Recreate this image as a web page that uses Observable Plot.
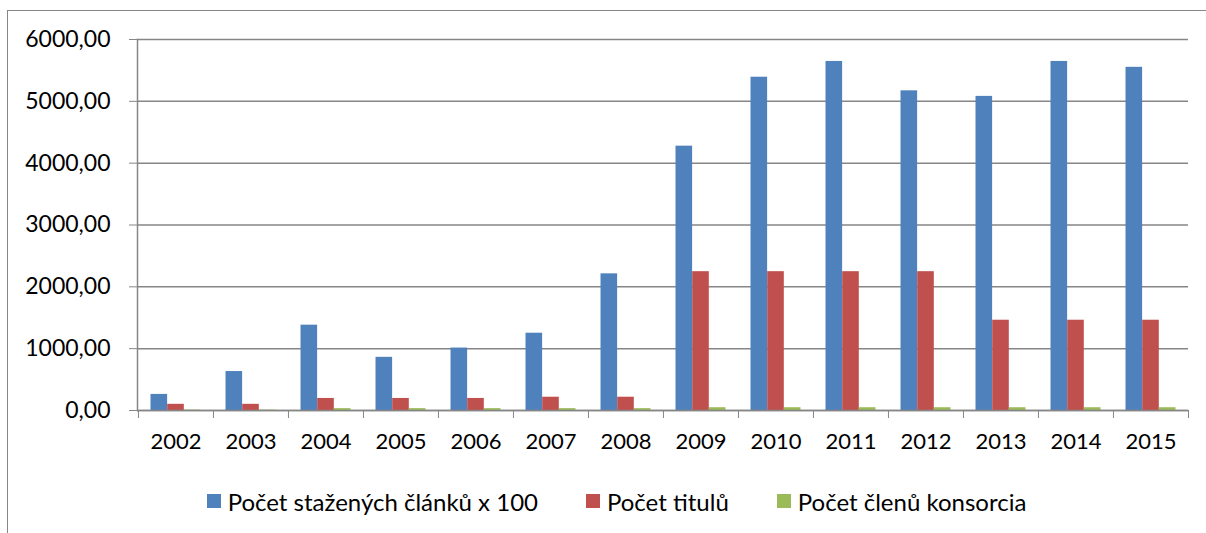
<!DOCTYPE html>
<html>
<head>
<meta charset="utf-8">
<script src="https://cdn.jsdelivr.net/npm/d3@7"></script>
<script src="https://cdn.jsdelivr.net/npm/@observablehq/plot@0.6"></script>
<style>
  body { margin: 0; background: #fff; font-family: Lato, "Open Sans", sans-serif; }
  #wrap { position: relative; width: 1206px; height: 533px; overflow: hidden; background: #fff; }
  #border { position: absolute; left: 7px; top: 10px; width: 1400px; height: 700px;
            border-left: 1.5px solid #868686; border-top: 1.5px solid #868686; box-sizing: border-box; }
  #chart { position: absolute; left: 0; top: 0; }
  #legend { position: absolute; left: 0; top: 471px; width: 1206px; height: 60px;
            display: flex; justify-content: center; align-items: center; gap: 48px;
            font-size: 24px; color: #000; padding-left: 27px; box-sizing: border-box; }
  .item { display: flex; align-items: center; }
  .sw { width: 14px; height: 14px; margin-right: 7px; }
</style>
</head>
<body>
<div id="wrap">
  <div id="border"></div>
  <div id="chart"></div>
  <div id="legend"></div>
</div>
<script>
const years = [2002, 2003, 2004, 2005, 2006, 2007, 2008, 2009, 2010, 2011, 2012, 2013, 2014, 2015];
const downloads = [260, 630, 1380, 860, 1010, 1250, 2210, 4275, 5390, 5645, 5170, 5080, 5645, 5550];
const titles = [100, 100, 195, 195, 195, 215, 215, 2245, 2245, 2245, 2245, 1460, 1460, 1460];
const members = [6, 6, 30, 30, 30, 30, 30, 45, 45, 45, 45, 45, 45, 45];
const seriesNames = ["Počet stažených článků x 100", "Počet titulů", "Počet členů konsorcia"];
const seriesColors = ["#4F81BD", "#C0504D", "#9BBB59"];
const yTicks = [0, 1000, 2000, 3000, 4000, 5000, 6000];

const seriesValues = [downloads, titles, members];

const W = 1206, H = 470;
const mL = 137, mR = 18, mT = 39, mB = 60;
const band = (W - mL - mR) / years.length;
const outer = band / 6;
const barW = (band - 2 * outer) / 3;

const grid = "#868686";
const fmt = d => d.toFixed(2).replace(".", ",");

const barMarks = seriesValues.map((vals, k) =>
  Plot.barY(years.map((y, i) => ({year: y, value: vals[i]})), {
    x: "year", y: "value", fill: seriesColors[k],
    insetLeft: outer + k * barW,
    insetRight: band - outer - (k + 1) * barW
  })
);

const chart = Plot.plot({
  width: W, height: H,
  marginLeft: mL, marginRight: mR, marginTop: mT, marginBottom: mB,
  style: {fontFamily: "Lato, 'Open Sans', sans-serif", fontSize: "22px", color: "#000", background: "transparent"},
  x: {type: "band", domain: years, padding: 0, axis: null},
  y: {domain: [0, 6000], axis: null},
  marks: [
    Plot.gridY(yTicks, {stroke: grid, strokeOpacity: 1, strokeWidth: 1.5}),
    ...barMarks,
    Plot.ruleY([0], {stroke: grid, strokeWidth: 1.5}),
    Plot.frame({anchor: "left", stroke: grid, strokeWidth: 1.5}),
    Plot.axisY({ticks: yTicks, tickSize: 8, tickPadding: 19, tickFormat: fmt, stroke: grid, fill: "#000", fontSize: 23, label: null}),
    Plot.axisX({ticks: years, tickSize: 8, tickFormat: () => "", dx: -band / 2, stroke: grid, label: null}),
    Plot.axisX({ticks: [years[years.length - 1]], tickSize: 8, tickFormat: () => "", dx: band / 2, stroke: grid, label: null}),
    Plot.axisX({ticks: years, tickSize: 0, tickPadding: 23, tickFormat: d => String(d), fill: "#000", fontSize: 22, label: null})
  ]
});
document.getElementById("chart").appendChild(chart);

const legend = document.getElementById("legend");
seriesNames.forEach((name, k) => {
  const item = document.createElement("div");
  item.className = "item";
  const sw = document.createElement("div");
  sw.className = "sw";
  sw.style.background = seriesColors[k];
  const t = document.createElement("span");
  t.textContent = name;
  item.appendChild(sw);
  item.appendChild(t);
  legend.appendChild(item);
});
</script>
</body>
</html>
